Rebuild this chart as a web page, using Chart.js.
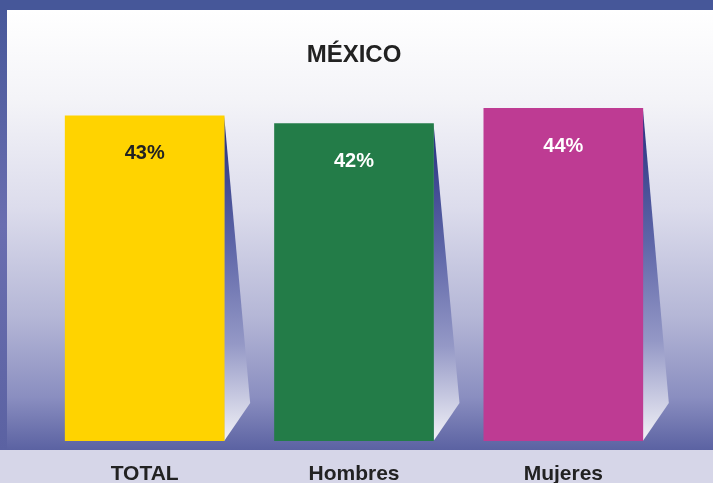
<!DOCTYPE html>
<html>
<head>
<meta charset="utf-8">
<script src="https://cdn.jsdelivr.net/npm/chart.js@4/dist/chart.umd.min.js"></script>
<style>
  body { margin: 0; }
  #wrap { width: 713px; height: 483px; }
</style>
</head>
<body>
<div id="wrap"><canvas id="mexico"></canvas></div>
<script>
const categories = ["TOTAL", "Hombres", "Mujeres"];
const values = [43, 42, 44];
const barColors = ["#ffd300", "#237c48", "#be3b93"];
const valueTextColors = ["#222222", "#ffffff", "#ffffff"];

// background panels + frame
const backdrop = {
  id: "backdrop",
  beforeDraw(chart) {
    const c = chart.ctx;
    const w = chart.width, h = chart.height;
    c.save();
    c.fillStyle = "#d6d6e8";
    c.fillRect(0, 0, w, h);
    const g = c.createLinearGradient(0, 10, 0, 450);
    g.addColorStop(0, "#ffffff");
    g.addColorStop(0.2, "#f4f4f8");
    g.addColorStop(0.45, "#dcdcec");
    g.addColorStop(0.7, "#b4b6d6");
    g.addColorStop(0.88, "#8a8ec0");
    g.addColorStop(1, "#5b62a2");
    c.fillStyle = g;
    c.fillRect(7, 10, w - 7, 440);
    const lg = c.createLinearGradient(0, 0, 0, 450);
    lg.addColorStop(0, "#465799");
    lg.addColorStop(0.5, "#6a6eb0");
    lg.addColorStop(1, "#5b62a2");
    c.fillStyle = lg;
    c.fillRect(0, 0, 7, 450);
    c.fillStyle = "#465799";
    c.fillRect(0, 0, w, 10);
    c.restore();
  }
};

// slanted shadow beside each bar
const sideShadow = {
  id: "sideShadow",
  beforeDatasetsDraw(chart) {
    const c = chart.ctx;
    chart.getDatasetMeta(0).data.forEach(bar => {
      const right = bar.x + bar.width / 2;
      const g = c.createLinearGradient(0, bar.y, 0, bar.base);
      g.addColorStop(0, "#26307f");
      g.addColorStop(0.4, "#5e66a8");
      g.addColorStop(0.7, "#9498c6");
      g.addColorStop(1, "#f2f2f7");
      c.save();
      c.fillStyle = g;
      c.beginPath();
      c.moveTo(right, bar.y);
      c.lineTo(right + 26, bar.base - 38);
      c.lineTo(right, bar.base);
      c.closePath();
      c.fill();
      c.restore();
    });
  }
};

const valueLabels = {
  id: "valueLabels",
  afterDatasetsDraw(chart) {
    const c = chart.ctx;
    c.save();
    c.font = "bold 20px 'Liberation Sans', Arial, sans-serif";
    c.textAlign = "center";
    c.textBaseline = "middle";
    chart.getDatasetMeta(0).data.forEach((bar, i) => {
      c.fillStyle = valueTextColors[i];
      c.fillText(values[i] + "%", bar.x, bar.y + 38);
    });
    c.restore();
  }
};

new Chart(document.getElementById("mexico"), {
  type: "bar",
  data: {
    labels: categories,
    datasets: [{
      data: values,
      backgroundColor: barColors,
      barThickness: 159
    }]
  },
  options: {
    responsive: true,
    maintainAspectRatio: false,
    animation: false,
    layout: { padding: { left: 40, right: 45, top: 0, bottom: -25 } },
    plugins: {
      legend: { display: false },
      tooltip: { enabled: false },
      title: {
        display: true,
        text: "MÉXICO",
        color: "#222222",
        font: { family: "'Liberation Sans', Arial, sans-serif", size: 24, weight: "bold", lineHeight: 0.667 },
        padding: { top: 47, bottom: 0 }
      }
    },
    scales: {
      x: {
        grid: { display: false, drawTicks: false },
        border: { display: false },
        ticks: {
          color: "#222222",
          padding: 23,
          font: { family: "'Liberation Sans', Arial, sans-serif", size: 21, weight: "bold", lineHeight: 1 }
        }
      },
      y: { display: false, min: 0, max: 50 }
    }
  },
  plugins: [backdrop, sideShadow, valueLabels]
});
</script>
</body>
</html>
